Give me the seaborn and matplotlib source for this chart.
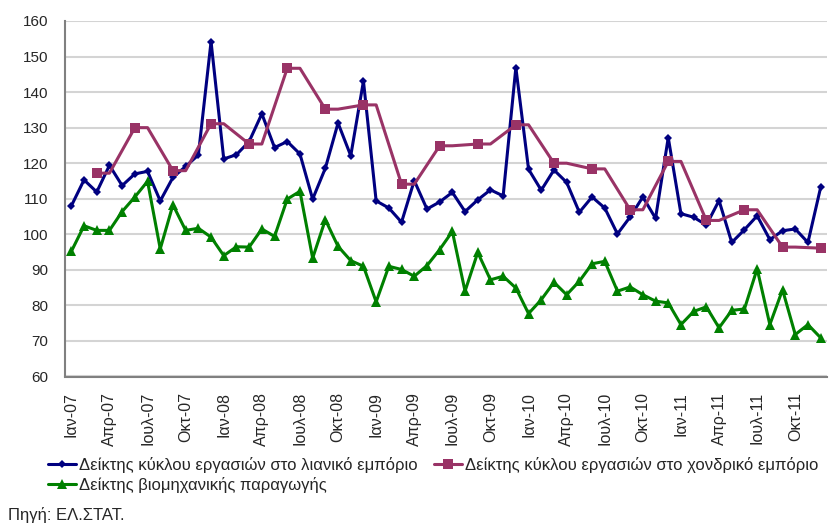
import matplotlib
matplotlib.use("Agg")
import matplotlib.pyplot as plt
import seaborn as sns
import numpy as np
import pandas as pd

# ---- data ----
month_names = ["Ιαν", "Φεβ", "Μαρ", "Απρ", "Μαϊ", "Ιουν", "Ιουλ", "Αυγ", "Σεπ", "Οκτ", "Νοε", "Δεκ"]
years = ["07", "08", "09", "10", "11"]
months = [f"{m}-{y}" for y in years for m in month_names]

retail = [108, 115.3, 111.9, 119.4, 113.7, 117, 117.7, 109.4, 116, 119.1, 122.3, 154.2,
          121.2, 122.4, 126.1, 133.9, 124.4, 126.1, 122.6, 109.9, 118.6, 131.3, 122.1, 143.1,
          109.4, 107.4, 103.4, 115.1, 107.1, 109.1, 111.8, 106.4, 109.7, 112.5, 110.8, 146.9,
          118.3, 112.4, 118.1, 114.6, 106.2, 110.5, 107.4, 100.1, 104.9, 110.5, 104.5, 127.2,
          105.8, 104.8, 102.6, 109.5, 97.7, 101.3, 105.2, 98.5, 101, 101.5, 97.7, 113.2]

industry = [95.2, 102.4, 101.1, 101.1, 106.4, 110.5, 114.9, 95.9, 108.3, 101.1, 101.7, 99.2,
            94, 96.5, 96.4, 101.5, 99.4, 109.9, 112.1, 93.3, 104.1, 96.6, 92.6, 91,
            81, 91, 90.1, 88.2, 91.2, 95.7, 100.8, 84, 94.9, 87.2, 88.2, 84.9,
            77.7, 81.6, 86.5, 83, 86.8, 91.7, 92.4, 84, 85.2, 83, 81.2, 80.7,
            74.6, 78.3, 79.6, 73.7, 78.6, 79, 90.3, 74.6, 84.4, 71.8, 74.6, 70.9]

# quarterly wholesale index (value at quarter-end month)
wholesale_q = [117.2, 130.0, 117.9, 131.1,
               125.4, 146.7, 135.2, 136.4,
               114.1, 124.9, 125.4, 130.8,
               120.0, 118.4, 106.9, 120.5,
               103.9, 106.9, 96.4, 96.1]

label_retail = "Δείκτης κύκλου εργασιών στο λιανικό εμπόριο"
label_wholesale = "Δείκτης κύκλου εργασιών στο χονδρικό εμπόριο"
label_industry = "Δείκτης βιομηχανικής παραγωγής"
source_text = "Πηγή: ΕΛ.ΣΤΑΤ."

# ---- build frames ----
idx = np.arange(len(months))
df_m = pd.DataFrame({"i": idx, "retail": retail, "industry": industry})

wx, wy = [], []
for k, v in enumerate(wholesale_q):
    m = 3 * k + 2  # quarter-end month index
    wx.append(m); wy.append(v)
    if m + 1 < len(months):
        wx.append(m + 1); wy.append(v)
df_w = pd.DataFrame({"i": wx, "wholesale": wy})
mark_idx = [j for j, x in enumerate(wx) if (x - 2) % 3 == 0]

# ---- style ----
sns.set_style("white")
plt.rcParams["font.family"] = ["Liberation Sans", "DejaVu Sans"]

W, H = 831, 527
fig = plt.figure(figsize=(W / 100, H / 100), dpi=100)
ax = fig.add_axes([65 / W, 1 - 376.5 / H, (827 - 65) / W, (376.5 - 21) / H])

blue = "#000080"
purple = "#993366"
green = "#008000"

sns.lineplot(data=df_m, x="i", y="retail", ax=ax, color=blue, lw=2.2,
             marker="D", markersize=4.5, markeredgewidth=0, label=label_retail)
sns.lineplot(data=df_w, x="i", y="wholesale", ax=ax, color=purple, lw=2.2,
             marker="s", markersize=6.5, markeredgewidth=0, markevery=mark_idx,
             label=label_wholesale)
sns.lineplot(data=df_m, x="i", y="industry", ax=ax, color=green, lw=2.2,
             marker="^", markersize=6.5, markeredgewidth=0, label=label_industry)

ax.set_xlim(-0.5, len(months) - 0.5)
ax.set_ylim(60, 160)
ax.set_yticks(np.arange(60, 161, 10))
ax.set_xlabel("")
ax.set_ylabel("")

# x ticks: labels every 3 months at category centres, tick marks at boundaries
ax.set_xticks(idx[::3])
ax.set_xticklabels([months[i] for i in idx[::3]], rotation=90, fontsize=11.5)
ax.set_xticks(np.arange(-0.5, len(months), 3), minor=True)
ax.tick_params(axis="x", which="major", length=0, pad=11)
ax.tick_params(axis="x", which="minor", length=5, width=1.2, color="#808080", direction="out")
ax.tick_params(axis="y", length=5, width=1.2, color="#808080", direction="out", labelsize=11, pad=7)

ax.grid(axis="y", color="#d4d4d4", lw=1.5)
ax.set_axisbelow(True)
for s in ["top", "right"]:
    ax.spines[s].set_visible(False)
for s in ["left", "bottom"]:
    ax.spines[s].set_color("#808080")
    ax.spines[s].set_linewidth(1.5)

ax.get_legend().remove()
h, l = ax.get_legend_handles_labels()
order = [0, 2, 1]
fig.legend([h[i] for i in order], [l[i] for i in order], ncol=2, loc="upper left",
           bbox_to_anchor=(48 / W, 1 - 457 / H), frameon=False, fontsize=12,
           handlelength=1.65, handletextpad=0.2, columnspacing=1.0,
           labelspacing=0.25, borderpad=0, borderaxespad=0)

fig.text(8 / W, 1 - 520 / H, source_text, fontsize=12, ha="left", va="baseline")

fig.savefig("out.png", dpi=100)
